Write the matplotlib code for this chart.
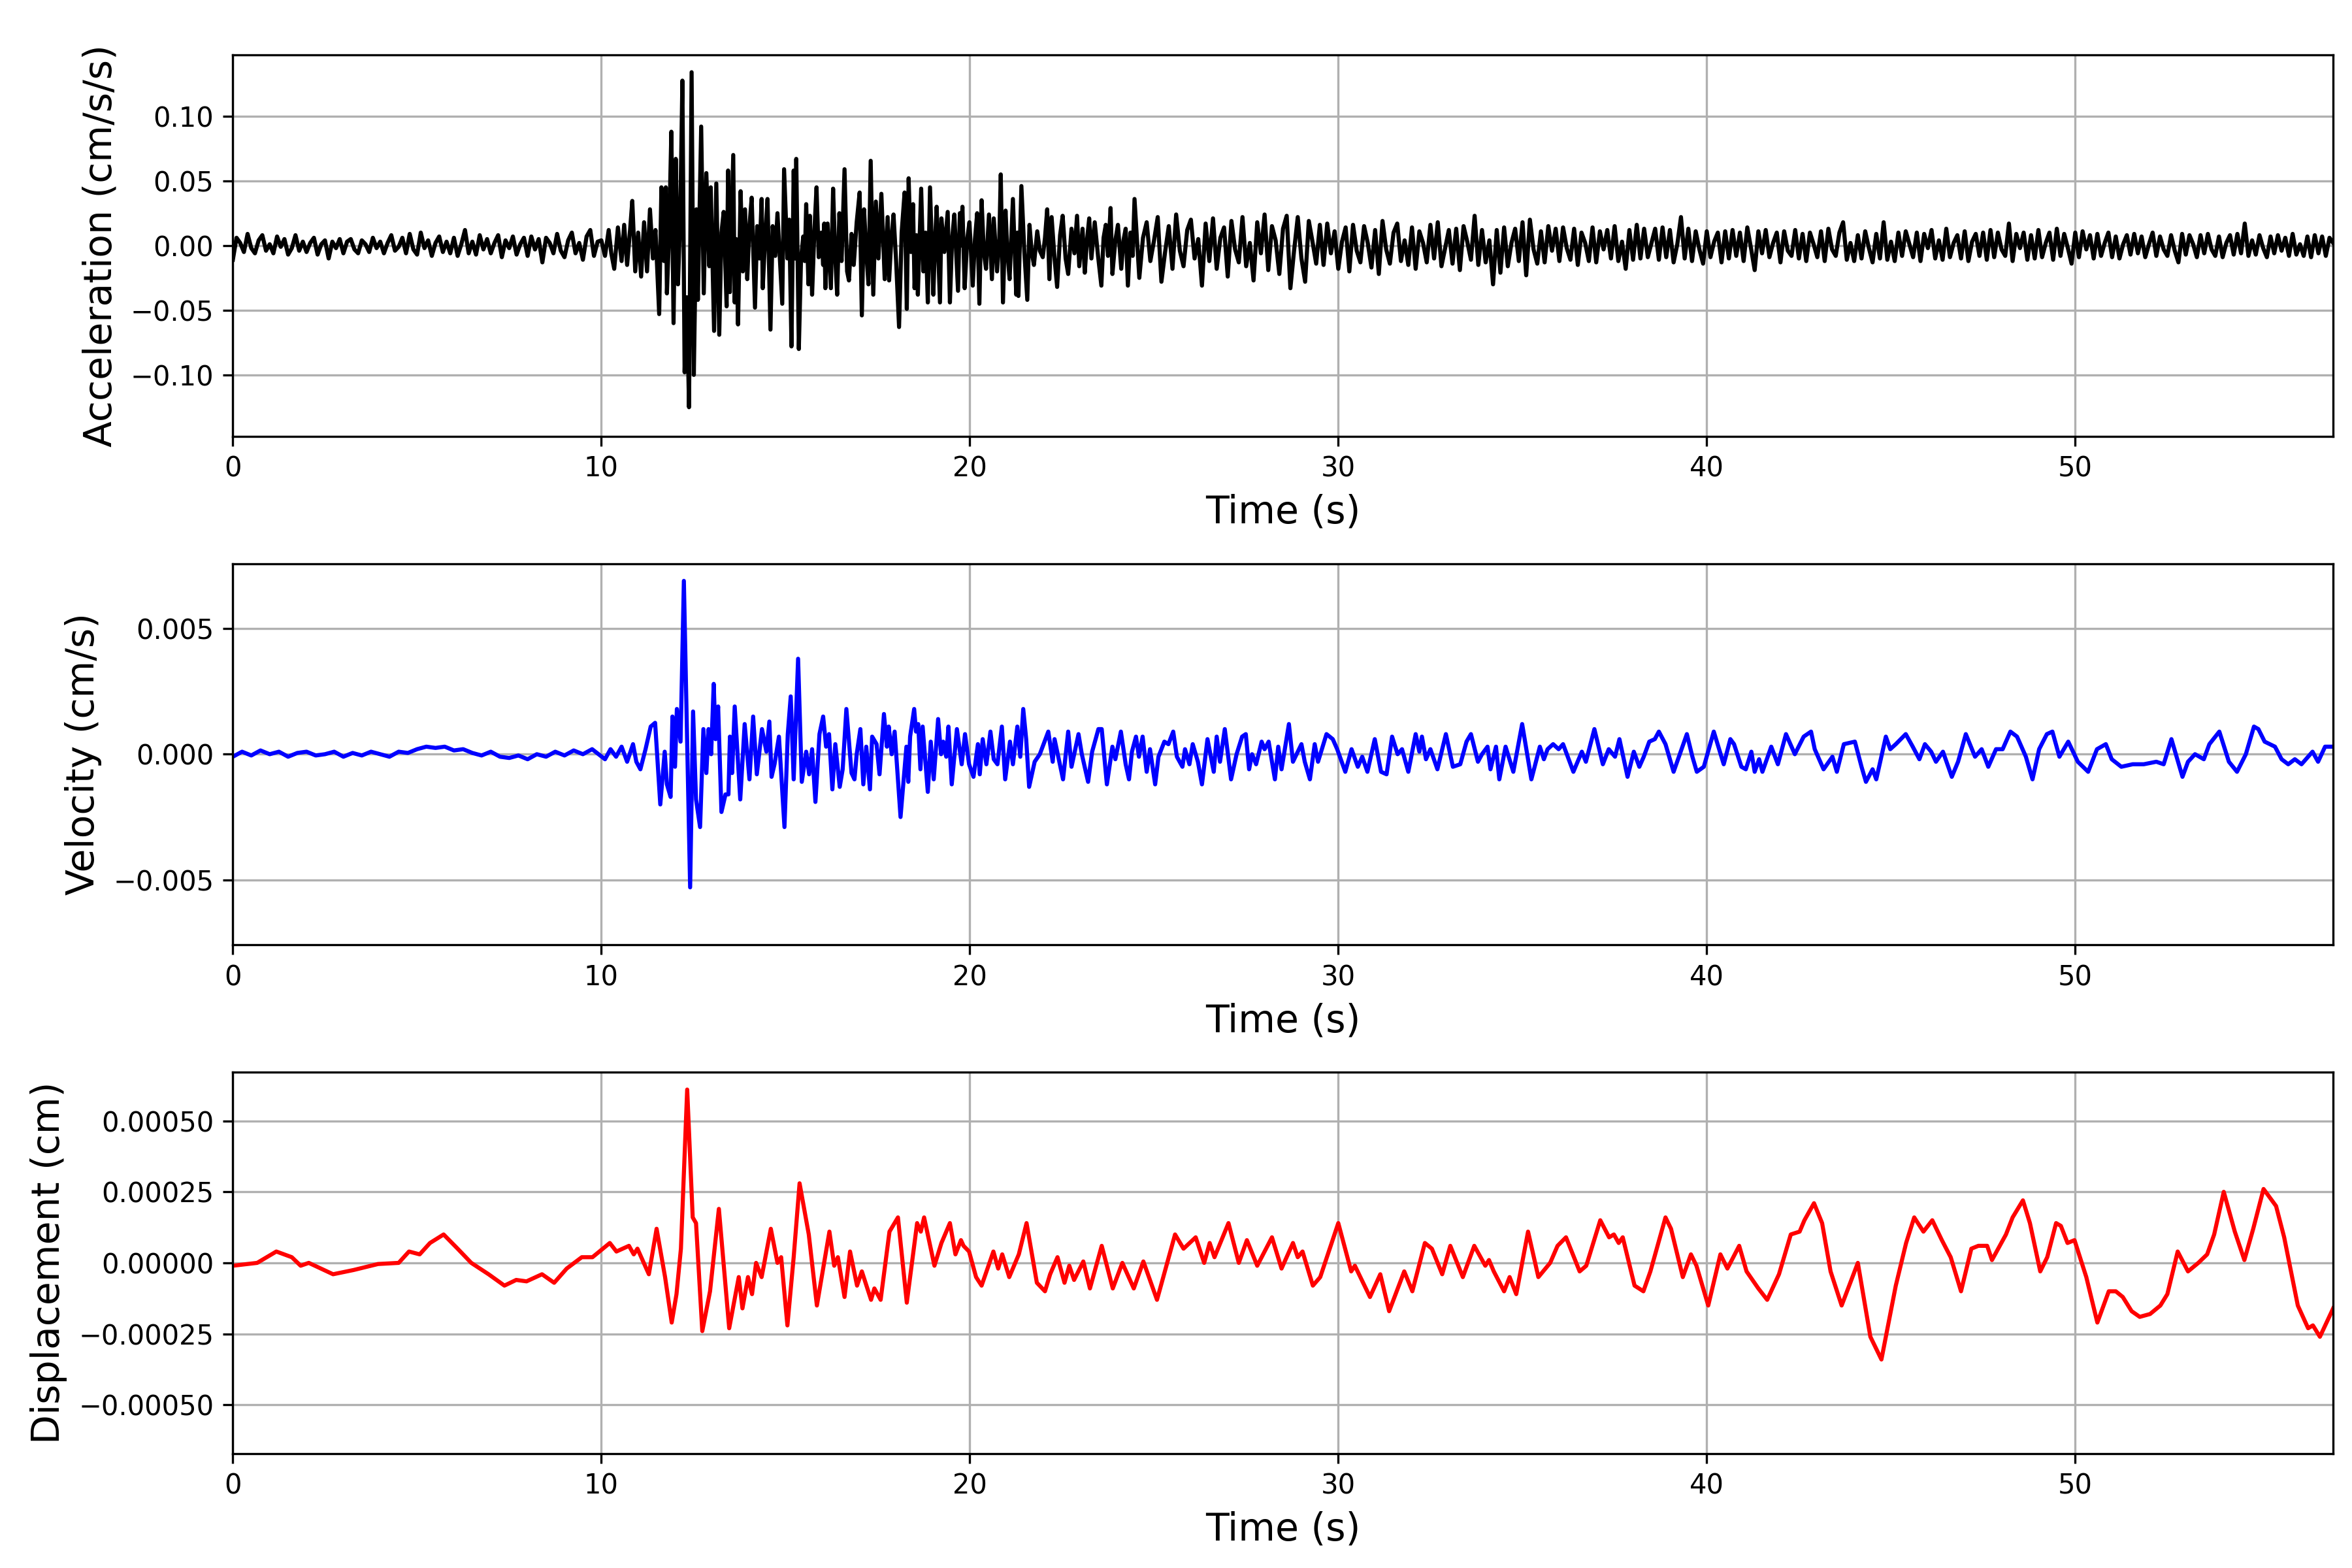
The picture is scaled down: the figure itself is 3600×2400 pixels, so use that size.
import numpy as np
import matplotlib
matplotlib.use('Agg')
import matplotlib.pyplot as plt

# ---- acceleration (cm/s/s) ----
# pre-event noise, sampled every 0.1 s from t = 0
acc_pre = [
    -0.011, 0.006, 0.002, -0.005, 0.009, -0.002, -0.006, 0.004, 0.008, -0.004,
    0.001, -0.006, 0.007, -0.001, 0.005, -0.007, -0.002, 0.008, -0.004, 0.003,
    -0.005, 0.002, 0.006, -0.007, 0.001, 0.004, -0.010, 0.003, -0.002, 0.005,
    -0.006, 0.003, 0.005, -0.003, -0.006, 0.004, 0.001, -0.005, 0.006, -0.002,
    0.003, -0.006, 0.002, 0.008, -0.004, -0.001, 0.006, -0.006, 0.009, -0.003,
    -0.007, 0.010, -0.002, 0.004, -0.008, 0.002, 0.007, -0.005, 0.003, -0.006,
    0.006, -0.008, 0.001, 0.012, -0.006, 0.003, -0.007, 0.008, -0.003, 0.005,
    -0.006, 0.002, 0.008, -0.009, 0.004, -0.002, 0.007, -0.007, 0.001, 0.006,
    -0.008, 0.007, -0.003, 0.005, -0.013, 0.006, 0.002, -0.006, 0.009, -0.004,
    -0.009, 0.004, 0.010, -0.006, 0.002, -0.011, 0.007, 0.012, -0.008, 0.003,
]

# strong motion, peaks
acc_main_t = [
    10.0, 10.1, 10.2, 10.27, 10.35, 10.45, 10.55, 10.62, 10.7, 10.78,
    10.84, 10.92, 11.0, 11.08, 11.16, 11.24, 11.32, 11.4, 11.47, 11.57,
    11.63, 11.7, 11.75, 11.78, 11.84, 11.9, 11.96, 12.02, 12.08, 12.14,
    12.2, 12.26, 12.32, 12.38, 12.45, 12.51, 12.58, 12.62, 12.71, 12.78,
    12.85, 12.93, 12.97, 13.06, 13.12, 13.2, 13.26, 13.32, 13.4, 13.44,
    13.49, 13.58, 13.62, 13.66, 13.71, 13.78, 13.84, 13.9, 13.96, 14.02,
    14.08, 14.17, 14.23, 14.29, 14.35, 14.38, 14.45, 14.51, 14.59, 14.65,
    14.72, 14.78, 14.91, 14.96, 15.05, 15.1, 15.16, 15.22, 15.26, 15.29,
    15.36, 15.42, 15.48, 15.52, 15.56, 15.62, 15.66, 15.72, 15.78, 15.84,
    15.9, 15.97, 16.02, 16.05, 16.08, 16.14, 16.23, 16.29, 16.35, 16.4,
    16.46, 16.52, 16.6, 16.67, 16.72, 16.79, 16.85, 16.93, 17.01, 17.07,
    17.13, 17.19, 17.25, 17.31, 17.38, 17.45, 17.52, 17.6, 17.69, 17.77,
    17.81, 17.87, 17.93, 18.0, 18.08, 18.15, 18.23, 18.29, 18.34, 18.4,
    18.46, 18.5, 18.55, 18.59, 18.68, 18.74, 18.8, 18.86, 18.92, 19.01,
    19.06, 19.1, 19.19, 19.23, 19.31, 19.4, 19.46, 19.52, 19.58, 19.68,
    19.73, 19.76, 19.8, 19.86, 19.93, 19.99, 20.08, 20.14, 20.2, 20.26,
    20.32, 20.38, 20.44, 20.52, 20.6, 20.65, 20.74, 20.8, 20.84, 20.9,
    20.97, 21.02, 21.08, 21.17, 21.26, 21.29, 21.32, 21.4, 21.48, 21.56,
    21.62, 21.68, 21.74, 21.83, 21.9, 21.98, 22.04, 22.1, 22.16, 22.22,
    22.3, 22.37, 22.45, 22.52, 22.6, 22.67, 22.76, 22.84, 22.91, 22.97,
    23.06, 23.12, 23.18, 23.24, 23.3, 23.39, 23.48, 23.57, 23.63, 23.69,
    23.75, 23.82, 23.87, 23.95, 24.02, 24.11, 24.17, 24.23, 24.29, 24.36,
    24.42, 24.47,
]
acc_main_v = [
    0.004, -0.008, 0.012, -0.006, -0.018, 0.014, -0.012, 0.016, -0.015, 0.012,
    0.0345, -0.020, 0.010, -0.024, 0.018, -0.020, 0.028, -0.010, 0.012, -0.053,
    0.045, -0.012, 0.045, -0.037, 0.010, 0.088, -0.060, 0.067, -0.030, 0.020,
    0.1275, -0.098, -0.040, -0.125, 0.134, -0.100, 0.028, -0.042, 0.092, -0.037,
    0.056, -0.016, 0.045, -0.066, 0.048, -0.069, 0.010, 0.026, -0.047, 0.058,
    -0.036, 0.070, -0.044, 0.005, -0.061, 0.042, -0.020, 0.028, -0.026, 0.015,
    0.037, -0.048, 0.015, -0.010, 0.036, -0.033, 0.008, 0.036, -0.065, 0.015,
    -0.008, 0.025, -0.045, 0.059, -0.010, 0.020, -0.078, 0.058, -0.010, 0.067,
    -0.080, -0.010, 0.007, -0.012, 0.032, -0.030, 0.023, -0.038, 0.010, 0.045,
    -0.009, 0.010, -0.015, 0.017, -0.033, 0.017, -0.033, 0.044, -0.010, -0.038,
    0.025, -0.012, 0.059, -0.020, -0.027, 0.009, -0.015, 0.018, 0.041, -0.054,
    0.028, -0.005, -0.030, 0.0655, -0.038, 0.034, -0.010, 0.040, -0.026, 0.022,
    -0.027, 0.005, 0.024, -0.012, -0.063, 0.010, 0.041, -0.049, 0.052, -0.005,
    0.032, -0.033, 0.008, -0.038, 0.044, -0.020, 0.010, -0.044, 0.045, -0.038,
    0.005, 0.030, -0.044, 0.021, -0.005, 0.026, -0.044, 0.005, 0.024, -0.035,
    0.025, 0.000, 0.030, -0.033, 0.005, 0.018, -0.031, 0.005, 0.025, -0.045,
    0.035, -0.005, -0.018, 0.024, -0.026, 0.021, -0.020, 0.005, 0.055, -0.044,
    0.027, -0.005, -0.026, 0.036, -0.038, 0.010, -0.039, 0.046, -0.005, -0.042,
    0.016, -0.005, -0.015, 0.011, -0.004, -0.009, 0.006, 0.028, -0.026, 0.022,
    -0.010, -0.032, 0.008, 0.023, -0.010, -0.022, 0.013, -0.006, 0.023, -0.016,
    0.013, -0.021, 0.004, 0.021, -0.010, 0.018, -0.008, -0.031, 0.006, 0.016,
    -0.008, 0.029, -0.022, 0.004, 0.016, -0.018, 0.004, 0.013, -0.031, 0.010,
    -0.008, 0.036,
]

# coda, sampled every 0.1 s from t = 24.6
acc_coda = [
    -0.025, 0.006, 0.018, -0.012, 0.004, 0.022, -0.028, -0.005, 0.015, -0.018,
    0.024, -0.004, -0.016, 0.012, 0.020, -0.010, 0.005, -0.031, 0.017, -0.012,
    0.021, -0.018, 0.006, 0.014, -0.024, 0.019, -0.003, -0.013, 0.022, -0.016,
    0.002, -0.027, 0.018, -0.006, 0.024, -0.019, 0.015, 0.004, -0.022, 0.013,
    0.023, -0.033, -0.004, 0.022, -0.010, -0.028, 0.019, 0.003, -0.014, 0.016,
    -0.015, 0.017, -0.006, 0.011, -0.018, 0.003, 0.014, -0.020, 0.016, -0.004,
    -0.013, 0.015, 0.002, -0.017, 0.012, -0.022, 0.019, -0.003, -0.014, 0.010,
    0.017, -0.012, 0.004, -0.015, 0.014, -0.018, 0.011, 0.002, -0.013, 0.016,
    -0.010, 0.018, -0.016, -0.002, 0.012, -0.014, 0.013, -0.019, 0.015, 0.003,
    -0.011, 0.023, -0.015, 0.012, -0.013, 0.004, -0.030, 0.012, -0.021, 0.014,
    -0.016, 0.002, 0.013, -0.012, 0.018, -0.023, 0.020, -0.003, -0.014, 0.011,
    -0.013, 0.015, -0.004, 0.013, -0.012, 0.014, -0.002, -0.011, 0.013, -0.015,
    0.010, 0.002, -0.012, 0.014, -0.013, 0.011, -0.003, 0.012, -0.010, 0.015,
    -0.012, 0.003, -0.018, 0.012, -0.011, 0.016, -0.010, 0.013, -0.009, 0.002,
    0.013, -0.011, 0.014, -0.009, 0.012, -0.013, 0.001, 0.022, -0.010, 0.013,
    -0.012, 0.011, -0.003, -0.014, 0.011, -0.009, 0.003, 0.010, -0.013, 0.011,
    -0.010, 0.012, -0.008, 0.010, -0.012, 0.014, -0.002, -0.019, 0.011, -0.006,
    0.012, -0.009, 0.002, 0.010, -0.013, 0.011, -0.004, -0.008, 0.012, -0.010,
    0.009, -0.012, 0.010, 0.001, -0.009, 0.011, -0.012, 0.013, -0.003, -0.008,
    0.010, 0.018, -0.011, 0.002, -0.012, 0.008, -0.010, 0.011, -0.002, -0.013,
    0.009, -0.010, 0.018, -0.011, 0.003, -0.012, 0.010, -0.008, 0.011, 0.001,
    -0.009, 0.010, -0.012, 0.009, -0.002, 0.012, -0.010, 0.004, -0.011, 0.013,
    -0.009, 0.002, 0.008, -0.010, 0.011, -0.012, 0.003, 0.009, -0.008, 0.010,
    -0.011, 0.012, -0.009, 0.010, -0.003, -0.008, 0.017, -0.012, 0.009, -0.002,
    0.010, -0.011, 0.008, -0.010, 0.012, -0.009, 0.002, 0.010, -0.011, 0.013,
    -0.008, 0.009, -0.002, -0.014, 0.010, -0.009, 0.011, -0.003, 0.008, -0.010,
    0.009, -0.008, 0.002, 0.010, -0.009, 0.007, -0.010, 0.001, 0.008, -0.007,
    0.009, -0.006, 0.007, -0.009, 0.001, 0.010, -0.008, 0.007, -0.003, -0.008,
    0.008, -0.004, -0.013, 0.009, -0.007, 0.008, 0.001, -0.009, 0.008, -0.006,
    0.009, -0.003, -0.008, 0.007, -0.009, 0.002, 0.008, -0.007, 0.009, -0.006,
    0.017, -0.008, 0.004, -0.007, 0.008, -0.002, -0.009, 0.007, -0.006, 0.008,
    -0.004, 0.006, -0.008, 0.009, -0.007, 0.001, -0.008, 0.007, -0.009, 0.008,
    -0.006, 0.007, -0.008, 0.006, 0.002,
]

# ---- velocity (units of 1e-4 cm/s) ----
# pre-event, every 0.25 s from t = 0
vel_pre = [
    -1, 1, -0.5, 1.5, 0, 1, -1, 0.5, 1, -0.5,
    0, 1, -1, 0.5, -0.5, 1, 0, -1, 1, 0.5,
    2, 3, 2.5, 3, 1.5, 2, 0.5, -0.5, 1, -1,
    -1.5, -0.5, -2, 0, -1, 1, -0.5, 1.5, 0, 2,
]
vel_main_t = [
    10.1, 10.25, 10.4, 10.55, 10.7, 10.86, 10.95, 11.06, 11.2, 11.34,
    11.46, 11.6, 11.72, 11.78, 11.88, 11.93, 12.0, 12.05, 12.15, 12.24,
    12.41, 12.49, 12.57, 12.68, 12.77, 12.85, 12.91, 12.98, 13.05, 13.1,
    13.17, 13.26, 13.37, 13.45, 13.49, 13.55, 13.62, 13.77, 13.89, 14.02,
    14.12, 14.22, 14.36, 14.48, 14.56, 14.62, 14.7, 14.82, 14.97, 15.06,
    15.14, 15.22, 15.34, 15.44, 15.56, 15.64, 15.72, 15.81, 15.92, 16.02,
    16.1, 16.18, 16.27, 16.35, 16.47, 16.55, 16.65, 16.79, 16.87, 16.93,
    17.03, 17.11, 17.19, 17.29, 17.35, 17.47, 17.55, 17.67, 17.75, 17.8,
    17.88, 17.96, 18.12, 18.28, 18.33, 18.38, 18.49, 18.54, 18.6, 18.66,
    18.72, 18.86, 18.94, 19.02, 19.14, 19.22, 19.28, 19.36, 19.42, 19.51,
    19.65, 19.78, 19.87, 19.98, 20.1, 20.22, 20.27, 20.35, 20.45, 20.56,
    20.65, 20.75, 20.87, 20.96, 21.09, 21.17, 21.29, 21.37, 21.45, 21.53,
    21.61, 21.76, 21.9, 22.13, 22.25, 22.3, 22.53, 22.67, 22.76, 22.95,
    23.04, 23.21, 23.32, 23.49, 23.58, 23.72, 23.87, 23.95, 24.1, 24.23,
    24.32, 24.4, 24.51, 24.59, 24.69, 24.8, 24.89, 25.03, 25.12, 25.28,
    25.39, 25.52, 25.62, 25.77, 25.84, 25.96, 26.05, 26.19, 26.3, 26.45,
    26.62, 26.7, 26.79, 26.92, 27.09, 27.24, 27.39, 27.49, 27.58, 27.66,
    27.77, 27.92, 28.0, 28.11, 28.28, 28.37, 28.46, 28.66, 28.77, 29.0,
    29.09, 29.23, 29.36, 29.45, 29.68, 29.85, 29.97, 30.19, 30.36, 30.53,
    30.65, 30.79, 30.99, 31.16, 31.31, 31.46, 31.61, 31.73, 31.9, 32.1,
    32.2, 32.27, 32.38, 32.5, 32.69, 32.92, 33.11, 33.31, 33.48, 33.6,
    33.79, 33.9, 34.05, 34.13, 34.28, 34.37, 34.54, 34.75, 34.99, 35.24,
    35.47, 35.58, 35.68, 35.83, 35.98, 36.1, 36.38, 36.61, 36.72, 36.95,
    37.18, 37.34, 37.51, 37.63, 37.85, 38.02, 38.17, 38.29, 38.44, 38.59,
    38.7, 38.88, 39.1, 39.46, 39.61, 39.73, 39.92, 40.19, 40.46, 40.64,
    40.74, 40.94, 41.06, 41.21, 41.3, 41.42, 41.51, 41.75, 41.93, 42.15,
    42.39, 42.63, 42.83, 42.93, 43.17, 43.41, 43.53, 43.72, 44.02, 44.2,
    44.32, 44.5, 44.6, 44.86, 44.98, 45.13, 45.4, 45.59, 45.77, 45.92,
    46.09, 46.22, 46.41, 46.65, 46.82, 47.03, 47.28, 47.46, 47.64, 47.85,
    48.03, 48.24, 48.42, 48.66, 48.84, 49.02, 49.23, 49.38, 49.57, 49.81,
    50.07, 50.35, 50.59, 50.83, 50.99, 51.25, 51.56, 51.86, 52.2, 52.4,
    52.61, 52.91, 53.06, 53.25, 53.49, 53.64, 53.91, 54.17, 54.39, 54.63,
    54.85, 54.97, 55.14, 55.42, 55.6, 55.78, 55.96, 56.14, 56.44, 56.59,
    56.78, 56.98,
]
vel_main_v = [
    -2, 2, -1, 3, -3, 4, -3, -6, 2, 11,
    12.5, -20, 1, -12, -17, 15, -5, 18, 5, 69,
    -53, 17, -18, -29, 10, -7.5, 10, 0, 28, 6,
    19, -23, -16, -16, 7, -7.5, 19, -18, 12, -10,
    15, -8, 10, 1, 13, -9, -4, 7, -29, 8,
    23, -10, 38, -11, 1, -8, 2, -19, 8, 15,
    3, 8, -14, 4, -13, -6, 18, -7.5, -10, 0,
    10, -12, 3, -14, 7, 4, -8, 16, 3, 11,
    0, 9, -25, 3, -11, 7, 18, 9, 12, -6,
    11, -15, 5, -10, 14, 0, 5, -1, 11, -12,
    10, -4, 8, -4, -9, 4, -8, 6, -4, 9,
    -2, -4, 11, -10, 5, -4, 11, -1, 18, 6,
    -13, -3, 0, 9, -3, 6, -10, 9, -5, 8,
    0, -11, 1, 10, 10, -12, 3, -2, 9, -4,
    -10, 1, 7, -1, 7, -7, 2, -12, -1, 5,
    4, 9, -1, -5, 2, -4, 4, -3, -12, 6,
    -7, 7, -3, 10, -10, 0, 7, 8, -6, 0,
    -4, 5, 2, 5, -10, 3, -6, 12, -3, 4,
    -3, -10, 4, -3, 8, 6, 2, -7, 2, -5,
    -1, -7, 6, -7, -8, 7, 0, 2, -7, 8,
    1, 7, -2, 2, -6, 8, -5, -4, 5, 8,
    -3, 0, 3, -6, 3, -10, 3, -7, 12, -10,
    3, -2, 2, 4, 2, 4, -7, 1, -3, 10,
    -4, 2, -1, 6, -9, 1, -5, -1, 5, 6,
    9, 4, -7, 8, -1, -7, -5, 9, -4, 6,
    4, -5, -6, 1, -7, -2, -7, 3, -4, 8,
    0, 7, 9, 2, -6, -1, -7, 4, 5, -5,
    -11, -6, -10, 7, 2, 4, 8, 3, -2, 4,
    1, -3, 1, -9, -3, 8, -1, 2, -5, 2,
    2, 9, 7, -1, -10, 2, 8, 9, -1, 5,
    -3, -7, 2, 4, -2, -5, -4, -4, -3, -4,
    6, -9, -3, 0, -2, 4, 9, -3, -7, 0,
    11, 10, 5, 3, -2, -4, -2, -4, 1, -3,
    3, 3,
]

# ---- displacement (units of 1e-5 cm) ----
disp_t = [
    0.0, 0.66, 1.18, 1.6, 1.84, 2.06, 2.72, 3.28, 3.94, 4.5,
    4.78, 5.07, 5.35, 5.72, 6.1, 6.47, 6.94, 7.37, 7.69, 7.97,
    8.39, 8.72, 9.06, 9.47, 9.76, 10.23, 10.41, 10.75, 10.88, 10.98,
    11.29, 11.5, 11.73, 11.91, 12.04, 12.16, 12.33, 12.48, 12.57, 12.74,
    12.95, 13.19, 13.47, 13.73, 13.83, 13.98, 14.09, 14.2, 14.35, 14.6,
    14.78, 14.88, 15.05, 15.22, 15.38, 15.63, 15.85, 16.19, 16.32, 16.42,
    16.6, 16.75, 16.94, 17.07, 17.32, 17.41, 17.58, 17.82, 18.05, 18.29,
    18.57, 18.67, 18.76, 19.04, 19.23, 19.46, 19.61, 19.76, 19.83, 19.98,
    20.17, 20.32, 20.64, 20.77, 20.88, 21.07, 21.33, 21.54, 21.82, 22.04,
    22.18, 22.38, 22.57, 22.7, 22.83, 23.08, 23.26, 23.58, 23.88, 24.14,
    24.45, 24.71, 25.08, 25.57, 25.8, 26.13, 26.36, 26.51, 26.64, 27.02,
    27.3, 27.52, 27.8, 28.2, 28.46, 28.77, 28.9, 29.03, 29.31, 29.51,
    30.0, 30.35, 30.45, 30.86, 31.14, 31.38, 31.79, 32.01, 32.35, 32.54,
    32.82, 33.04, 33.38, 33.69, 33.99, 34.09, 34.22, 34.5, 34.65, 34.83,
    35.15, 35.43, 35.75, 35.95, 36.18, 36.55, 36.73, 37.11, 37.35, 37.48,
    37.61, 37.72, 38.04, 38.28, 38.47, 38.88, 39.03, 39.35, 39.57, 39.72,
    40.04, 40.37, 40.56, 40.88, 41.08, 41.4, 41.64, 41.96, 42.28, 42.52,
    42.65, 42.91, 43.13, 43.36, 43.66, 44.1, 44.44, 44.74, 45.13, 45.41,
    45.63, 45.88, 46.12, 46.38, 46.62, 46.9, 47.18, 47.37, 47.61, 47.74,
    48.12, 48.3, 48.58, 48.77, 49.05, 49.24, 49.48, 49.61, 49.79, 49.98,
    50.3, 50.6, 50.91, 51.1, 51.29, 51.53, 51.75, 52.03, 52.31, 52.5,
    52.78, 53.06, 53.34, 53.58, 53.77, 54.03, 54.33, 54.59, 54.83, 55.11,
    55.45, 55.67, 56.04, 56.32, 56.45, 56.64, 57.0,
]
disp_v = [
    -1, 0, 4, 2, -1, 0, -4, -2.5, -0.4, 0,
    4, 3, 7, 10, 5, 0, -4, -8, -6, -6.5,
    -4, -7, -2, 2, 2, 7, 4, 6, 3, 5,
    -4, 12, -5, -21, -11, 5, 61, 16, 14, -24,
    -10, 19, -23, -5, -16, -5, -11, 0, -5, 12,
    0, 2, -22, 2, 28, 10, -15, 11, -1, 2,
    -12, 4, -8, -3, -13, -9, -13, 11, 16, -14,
    14, 11, 16, -1, 7, 14, 3, 8, 6, 4,
    -5, -8, 4, -2, 3, -5, 3, 14, -7, -10,
    -4, 2, -7, -1, -6, 0.5, -9, 6, -9, 0,
    -9, 0.5, -13, 10, 5, 9, 0, 7, 2, 14,
    0, 8, -1, 9, -2, 7, 2, 4, -8, -5,
    14, -3, -1, -12, -4, -17, -3, -10, 7, 5,
    -4, 6, -5, 6, -1, 1, -3, -10, -5, -11,
    11, -5, 0, 6, 9, -3, -1, 15, 9, 10,
    7, 9, -8, -10, -3, 16, 12, -5, 3, -1,
    -15, 3, -2, 6, -3, -9, -13, -4, 10, 11,
    15, 21, 14, -3, -15, 0, -26, -34, -8, 7,
    16, 11, 15, 8, 2, -10, 5, 6, 6, 1,
    10, 16, 22, 14, -3, 2, 14, 13, 7, 8,
    -5, -21, -10, -10, -12, -17, -19, -18, -15, -11,
    4, -3, 0, 3, 10, 25, 11, 1, 12, 26,
    20, 9, -15, -23, -22, -26, -16,
]

acc_ticks = [-0.10, -0.05, 0.0, 0.05, 0.10]
vel_ticks = [-0.005, 0.0, 0.005]
disp_ticks = [-0.0005, -0.00025, 0.0, 0.00025, 0.0005]

# assemble the time series
acc_t = np.concatenate([np.arange(len(acc_pre)) * 0.1, acc_main_t,
                        24.6 + np.arange(len(acc_coda)) * 0.1])
acc = np.concatenate([acc_pre, acc_main_v, acc_coda])
vel_t = np.concatenate([np.arange(len(vel_pre)) * 0.25, vel_main_t])
vel = np.concatenate([vel_pre, vel_main_v]) * 1e-4
disp = np.array(disp_v) * 1e-5

series = [
    (acc_t, acc, 'k', 'Acceleration (cm/s/s)', acc_ticks),
    (vel_t, vel, 'b', 'Velocity (cm/s)', vel_ticks),
    (disp_t, disp, 'r', 'Displacement (cm)', disp_ticks),
]

fig, axes = plt.subplots(3, 1, figsize=(12, 8))
for ax, (t, y, c, lab, ticks) in zip(axes, series):
    ax.plot(t, y, color=c, linewidth=1.5)
    lim = 1.1 * np.max(np.abs(y))
    ax.set_ylim(-lim, lim)
    ax.set_yticks(ticks)
    ax.set_xlim(0, 57.0)
    ax.set_xlabel('Time (s)', fontsize=14)
    ax.set_ylabel(lab, fontsize=14)
    ax.grid(True)

fig.subplots_adjust(left=0.099, right=0.992, top=0.965, bottom=0.073, hspace=0.334)
fig.savefig('out.png', dpi=300)
